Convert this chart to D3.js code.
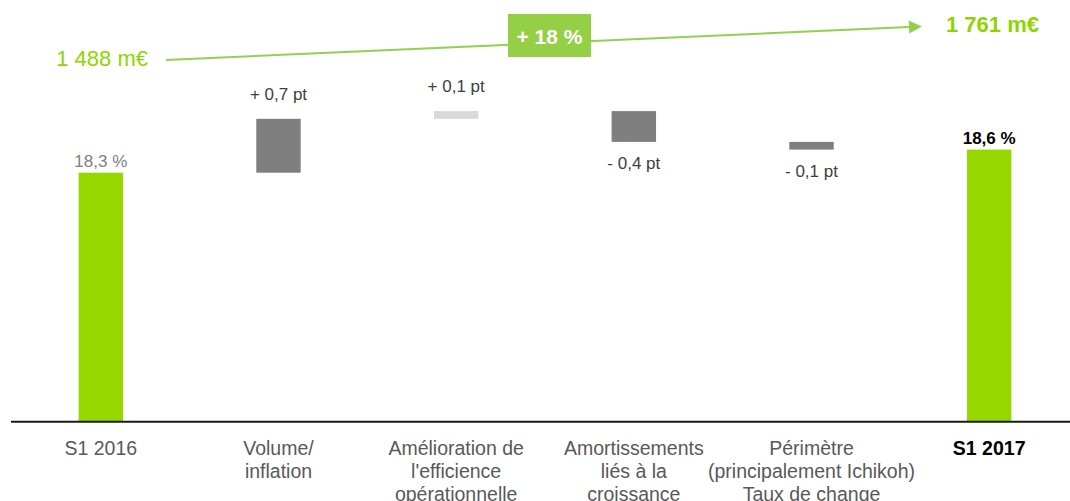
<!DOCTYPE html>
<html>
<head>
<meta charset="utf-8">
<script src="https://cdn.jsdelivr.net/npm/d3@7"></script>
<style>
  html, body { margin: 0; padding: 0; background: #fff; }
  svg { display: block; font-family: "Liberation Sans", Arial, sans-serif; }
</style>
</head>
<body>
<svg id="chart" width="1070" height="501"></svg>
<script>
// ---- data ----
const categories = ["S1 2016", "Volume/\ninflation", "Amélioration de\nl'efficience\nopérationnelle",
                    "Amortissements\nliés à la\ncroissance", "Périmètre\n(principalement Ichikoh)\nTaux de change", "S1 2017"];
const values = [18.3, 0.7, 0.1, -0.4, -0.1, 18.6];
const kinds = ["total", "delta", "delta", "delta", "delta", "total"];
const valueLabels = ["18,3 %", "+ 0,7 pt", "+ 0,1 pt", "- 0,4 pt", "- 0,1 pt", "18,6 %"];
const salesLabels = ["1 488 m€", "1 761 m€"];
const salesGrowth = "+ 18 %";

// ---- style / layout ----
const GREEN = "#97d700", LINEGREEN = "#92d050", TEXTGREEN = "#8fd400";
const barFill = ["total", "#7f7f7f", "#d9d9d9", "#7f7f7f", "#7f7f7f", "total"];
const svg = d3.select("#chart");

const x = d3.scaleBand().domain(categories).range([12, 1078]).paddingInner(0.75).paddingOuter(0.375);
const y = d3.scaleLinear().domain([15.066, 18.3]).range([421.7, 172.7]);

// compute waterfall segments
let running = 0;
const segs = values.map((v, i) => {
  let y0, y1;
  if (kinds[i] === "total") { y0 = y.domain()[0]; y1 = v; running = v; }
  else { y0 = running; y1 = running + v; running = y1; }
  return { cat: categories[i], v, kind: kinds[i], lo: Math.min(y0, y1), hi: Math.max(y0, y1), i };
});

svg.append("g").selectAll("rect").data(segs).join("rect")
  .attr("x", d => x(d.cat))
  .attr("width", x.bandwidth())
  .attr("y", d => y(d.hi))
  .attr("height", d => y(d.lo) - y(d.hi))
  .attr("fill", d => d.kind === "total" ? GREEN : barFill[d.i]);

// baseline axis
const axis = d3.axisBottom(x).tickSize(0).tickFormat("");
const axG = svg.append("g").attr("transform", "translate(0,421.7)").call(axis);
axG.select(".domain").remove();
axG.append("line").attr("x1", 11).attr("x2", 1070).attr("stroke", "#1a1a1a").attr("stroke-width", 2);

// category labels
const catG = svg.append("g");
categories.forEach((c, i) => {
  const t = catG.append("text")
    .attr("x", x(c) + x.bandwidth() / 2)
    .attr("y", 455)
    .attr("text-anchor", "middle")
    .attr("font-size", "19.5px")
    .attr("fill", i === 5 ? "#000" : "#595959")
    .attr("font-weight", i === 5 ? "bold" : "normal");
  c.split("\n").forEach((line, k) => {
    t.append("tspan").attr("x", x(c) + x.bandwidth() / 2).attr("dy", k === 0 ? 0 : 23).text(line);
  });
});

// value labels
svg.append("g").selectAll("text").data(segs).join("text")
  .attr("x", d => x(d.cat) + x.bandwidth() / 2)
  .attr("y", d => {
    if (d.kind === "total") return y(d.hi) - 6;
    return d.v > 0 ? y(d.hi) - 19 : y(d.lo) + 27;
  })
  .attr("text-anchor", "middle")
  .attr("font-size", "17px")
  .attr("font-weight", d => d.i === 5 ? "bold" : "normal")
  .attr("fill", d => d.i === 0 ? "#7f7f7f" : (d.i === 5 ? "#000" : "#404040"))
  .text(d => valueLabels[d.i]);

// sales growth arrow
const a0 = [166, 60], a1 = [922, 26.5];
const ang = Math.atan2(a1[1] - a0[1], a1[0] - a0[0]);
const headLen = 13, headHalf = 6.5;
const base = [a1[0] - headLen * Math.cos(ang), a1[1] - headLen * Math.sin(ang)];
svg.append("line")
  .attr("x1", a0[0]).attr("y1", a0[1]).attr("x2", base[0]).attr("y2", base[1])
  .attr("stroke", LINEGREEN).attr("stroke-width", 2);
svg.append("path")
  .attr("d", d3.line()([
    a1,
    [base[0] + headHalf * Math.sin(ang), base[1] - headHalf * Math.cos(ang)],
    [base[0] - headHalf * Math.sin(ang), base[1] + headHalf * Math.cos(ang)]
  ]) + "Z")
  .attr("fill", LINEGREEN);

svg.append("text").attr("x", 148).attr("y", 66).attr("text-anchor", "end")
  .attr("font-size", "22px").attr("fill", TEXTGREEN).text(salesLabels[0]);
svg.append("text").attr("x", 946).attr("y", 32).attr("text-anchor", "start")
  .attr("font-size", "22px").attr("font-weight", "bold").attr("fill", TEXTGREEN).text(salesLabels[1]);

svg.append("rect").attr("x", 508).attr("y", 14).attr("width", 83).attr("height", 43).attr("fill", "#95cf45");
svg.append("text").attr("x", 549.5).attr("y", 44).attr("text-anchor", "middle")
  .attr("font-size", "21px").attr("font-weight", "bold").attr("fill", "#fff").text(salesGrowth);
</script>
</body>
</html>
